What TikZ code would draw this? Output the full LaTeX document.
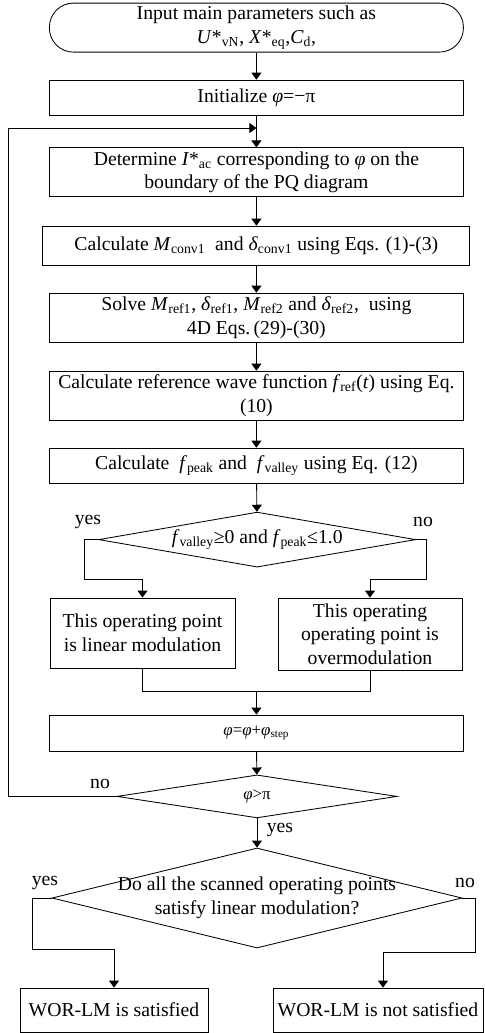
\documentclass[tikz,border=0pt]{standalone}
\usepackage{fontspec}
\setmainfont{Liberation Serif}
\usetikzlibrary{shapes.geometric, arrows.meta, calc}
\tikzset{
  start/.style={draw, line width=0.6pt, rounded corners=0.6cm, minimum width=10.35cm,
      minimum height=1.225cm, align=center, inner sep=1pt},
  proc/.style={draw, line width=0.6pt, minimum width=10.33cm, minimum height=0.875cm,
      align=center, inner sep=1pt},
  decision/.style={draw, diamond, line width=0.6pt, inner sep=0pt},
  flow/.style={line width=0.6pt, -{Triangle[length=1.75mm, width=2.5mm]}},
  link/.style={line width=0.6pt},
  tag/.style={inner sep=1pt},
}

\begin{document}
\begin{tikzpicture}[font=\fontsize{14}{16.8}\selectfont]
  \useasboundingbox (0,0) rectangle (12.125,-25.825);
  % Start
  \node[start] (inp) at (6.41,-0.69) {Input main parameters such as\\
    \textit{U}*\textsubscript{vN}, \textit{X}*\textsubscript{eq},\textit{C}\textsubscript{d},};
  \node[proc] (init) at (6.41,-2.44) {Initialize \textit{φ}=−π};
  % Scan over the PQ boundary
  \node[proc, minimum height=1.225cm] (iac) at (6.41,-4.31) {Determine \textit{I}*\textsubscript{ac}
    corresponding to \textit{φ} on the\\ boundary of the PQ diagram};
  \node[proc, minimum width=10.675cm, minimum height=0.975cm] (conv) at (6.41,-6.14)
    {Calculate \textit{M}\textsubscript{conv1} \ and \textit{δ}\textsubscript{conv1} using Eqs. (1)-(3)};
  \node[proc, minimum height=1.225cm] (solve) at (6.41,-7.94) {Solve \textit{M}\textsubscript{ref1},
    \textit{δ}\textsubscript{ref1}, \textit{M}\textsubscript{ref2} and \textit{δ}\textsubscript{ref2}, \ using\\
    4D Eqs.\,(29)-(30)};
  \node[proc, minimum height=1.225cm] (wave) at (6.41,-9.89) {Calculate reference wave function
    \textit{f}\textsubscript{ref}(\textit{t}) using Eq.\\ (10)};
  \node[proc] (peak) at (6.41,-11.64) {Calculate \ \textit{f}\textsubscript{peak} and \
    \textit{f}\textsubscript{valley} using Eq. (12)};
  % Linear modulation check
  \node[decision, minimum width=7.925cm, minimum height=1.375cm] (lim) at (6.43,-13.49) {};
  \node[tag] (limtxt) at (lim) {\textit{f}\textsubscript{valley}≥0 and \textit{f}\textsubscript{peak}≤1.0};
  \node[proc, minimum width=4.625cm, minimum height=1.75cm] (lin) at (3.5625,-15.825)
    {This operating point\\ is linear modulation};
  \node[proc, minimum width=4.6cm, minimum height=1.8cm] (ovm) at (9.25,-15.85)
    {This operating\\ operating point is\\ overmodulation};
  \node[proc, minimum height=0.9cm, font=\fontsize{12}{14}\selectfont] (step) at (6.41,-18.325)
    {\textit{φ}=\textit{φ}+\textit{φ}\textsubscript{step}};
  \node[decision, minimum width=7cm, minimum height=1.075cm] (ang) at (6.425,-19.91) {};
  \node[tag, font=\fontsize{12}{14}\selectfont] (angtxt) at (ang) {\textit{φ}>π};
  % Final check
  \node[decision, minimum width=10.25cm, minimum height=2.5cm] (all) at (6.425,-22.45) {};
  \node[tag, align=center] (alltxt) at (all) {Do all the scanned operating points\\
    satisfy linear modulation?};
  \node[proc, minimum width=4.7cm, minimum height=1.1cm] (ok) at (2.85,-25.25) {WOR-LM is satisfied};
  \node[proc, minimum width=5.25cm, minimum height=1.1cm] (fail) at (9.45,-25.25) {WOR-LM is not satisfied};

  \coordinate (join) at (6.41,-3.2);
  \coordinate (loopx) at (0.2,-3.2);
  \coordinate (merge) at (6.41,-17.275);

  \draw[flow] (inp) -- (init);
  \draw[flow] (init) -- (iac);
  \draw[flow] (iac) -- (conv);
  \draw[flow] (conv) -- (solve);
  \draw[flow] (solve) -- (wave);
  \draw[flow] (wave) -- (peak);
  \draw[flow] (peak) -- (lim);
  \draw[flow] (lim.west) -| ($(lim.west)+(-0.35,-1.0)$) -| (lin.north);
  \draw[flow] (lim.east) -| ($(lim.east)+(0.25,-1.0)$) -| (ovm.north);
  \draw[link] (lin.south) |- (merge);
  \draw[link] (ovm.south) |- (merge);
  \draw[flow] (merge) -- (step);
  \draw[flow] (step) -- (ang);
  \draw[flow] (ang.west) -| (loopx) -- (join);
  \draw[flow] (ang) -- (all);
  \draw[flow] (all.west) -| ($(all.west)+(-0.475,-1.275)$) -| (ok.north);
  \draw[flow] (all.east) -| ($(all.east)+(0.325,-1.35)$) -| ($(fail.north)+(0.125,0)$);

  \node[tag] (yes1) at (2.2,-13.05) {yes};
  \node[tag] (no1) at (10.575,-13.05) {no};
  \node[tag] (no2) at (2.5,-19.6) {no};
  \node[tag] (yes2) at (7.0,-20.75) {yes};
  \node[tag] (yes3) at (1.125,-22.075) {yes};
  \node[tag] (no3) at (11.625,-22.075) {no};
\end{tikzpicture}
\end{document}
